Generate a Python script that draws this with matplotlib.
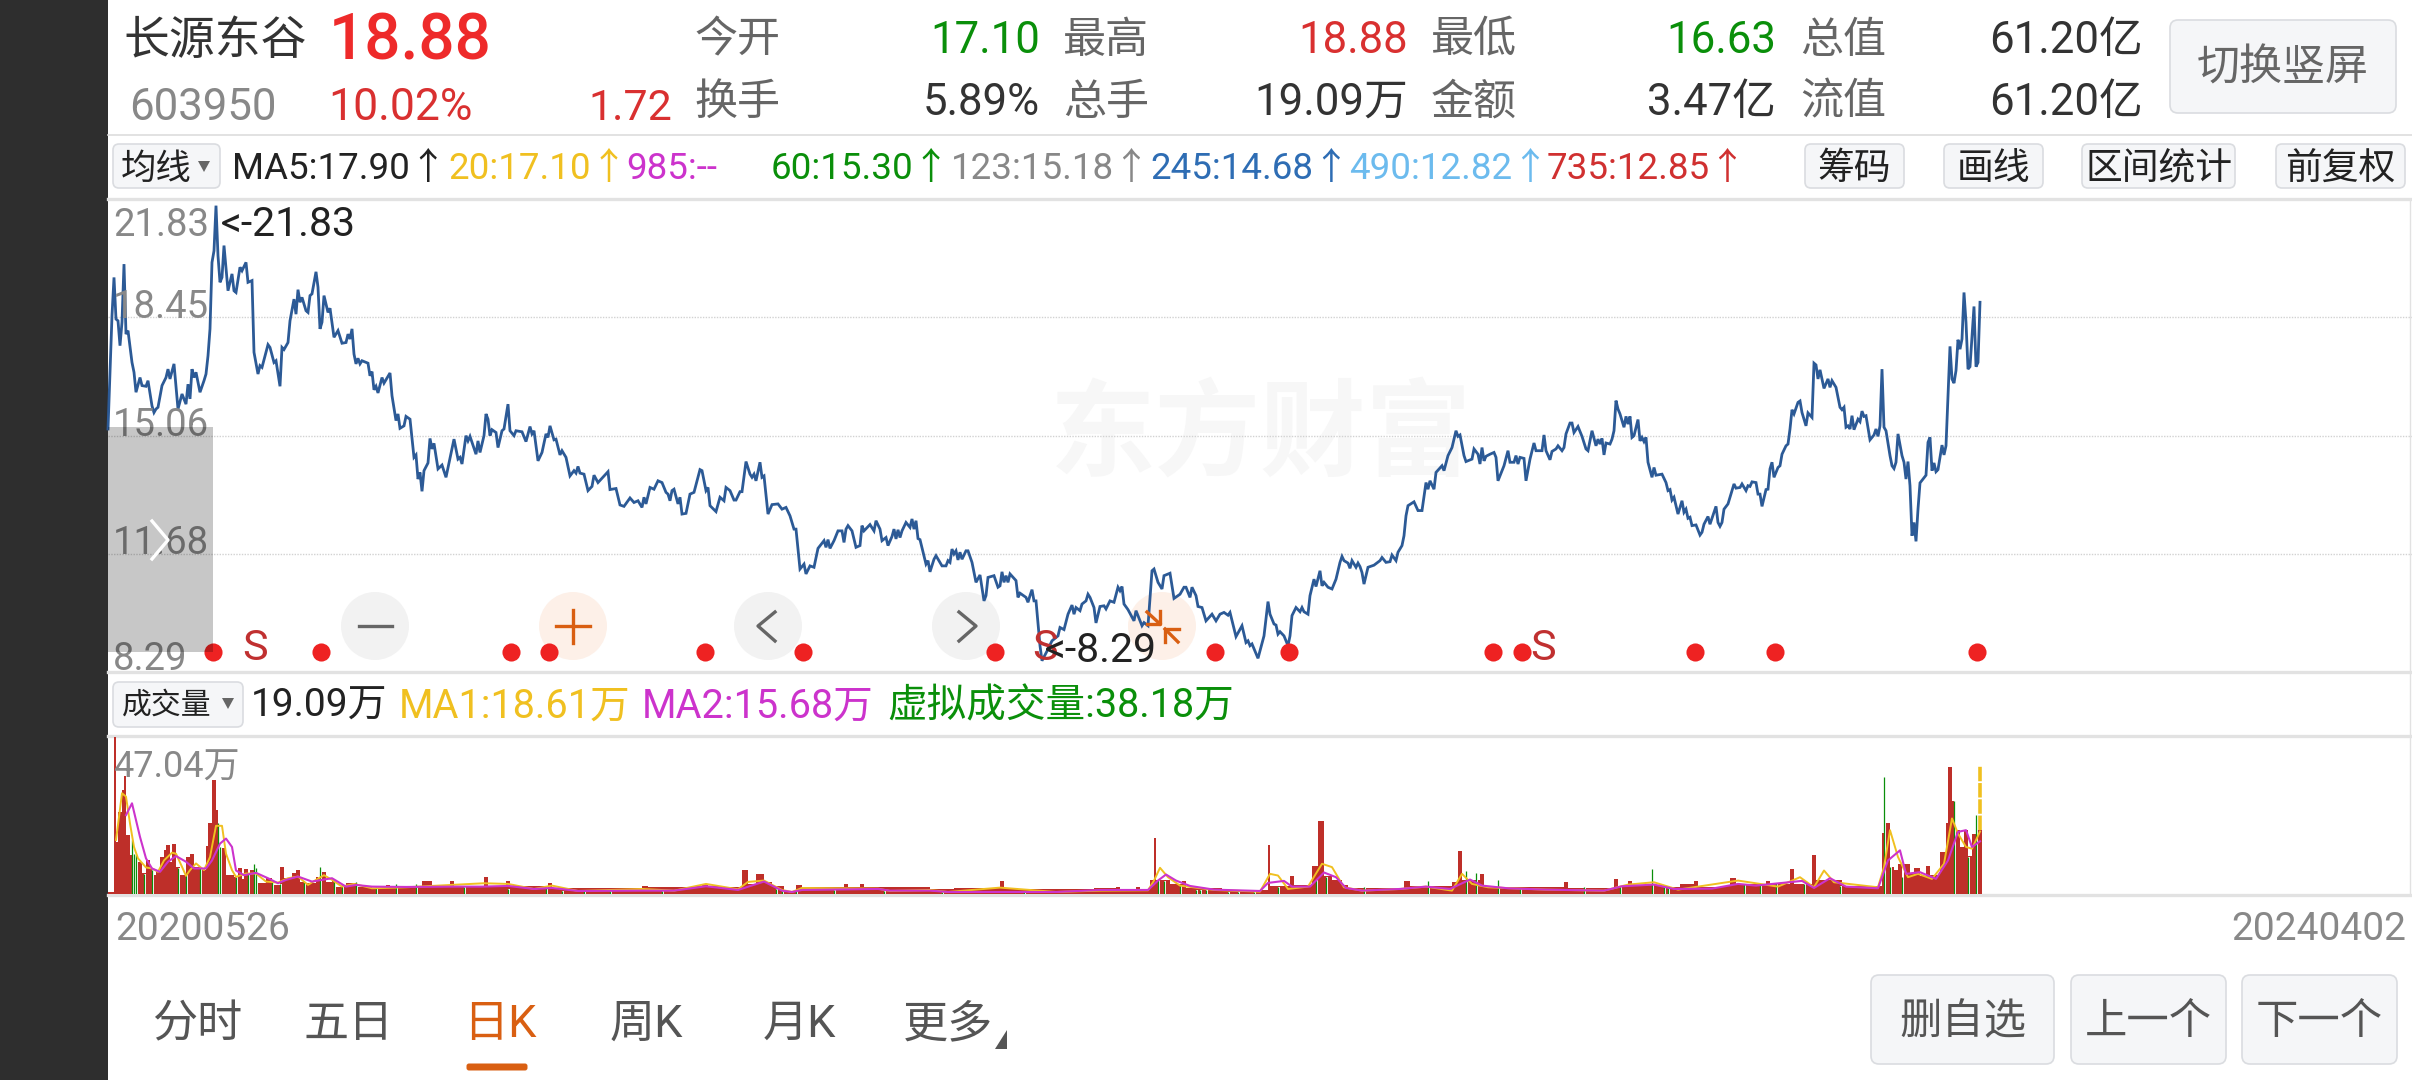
import numpy as np
import matplotlib
matplotlib.use("Agg")
import matplotlib.pyplot as plt
from matplotlib.patches import FancyBboxPatch, Circle, Rectangle, Polygon

plt.rcParams['font.family'] = ['Roboto', 'Noto Sans CJK SC', 'DejaVu Sans']

# ---------- data ----------
price_days = [0,1,2,3,4,5,6,7,8,9,10,12,13,14,16,17,19,20,22,23,24,25,27,29,30,31,33,35,37,39,40,41,42,43,44,46,48,49,50,51,52,53,54,55,56,57,58,60,62,63,64,66,67,69,70,72,73,75,76,77,80,81,83,84,86,87,88,90,91,93,94,95,96,97,99,100,101,102,104,105,106,107,108,110,111,113,115,117,119,120,121,122,123,124,125,126,127,130,131,132,133,134,135,137,138,141,142,144,145,146,148,149,151,153,154,155,156,157,158,160,161,162,163,165,167,169,173,175,176,177,179,180,181,184,185,186,188,189,190,191,192,194,195,197,198,200,201,203,204,207,209,211,212,213,215,217,219,220,221,223,224,226,227,229,231,233,234,235,
236,238,240,242,243,245,250,251,254,256,258,261,263,265,267,268,269,271,273,275,277,279,280,281,282,283,285,286,287,289,291,293,296,297,299,300,301,304,306,308,309,311,313,314,316,317,319,321,322,323,324,326,327,328,330,332,335,337,339,341,343,344,346,348,349,351,353,355,358,359,360,361,363,365,367,368,369,370,372,374,376,377,378,381,383,384,386,387,389,390,392,393,394,395,396,397,399,401,402,403,404,405,406,409,410,411,413,414,417,419,420,421,422,423,424,425,426,427,429,430,432,434,436,438,439,440,443,445,446,447,448,449,450,451,454,455,456,459,460,461,462,463,464,466,467,
470,472,475,476,478,480,482,483,484,486,487,489,490,491,493,494,496,498,499,501,503,505,506,507,508,510,513,514,517,518,520,522,523,525,527,528,531,533,536,538,539,541,542,544,545,547,549,552,554,556,558,560,561,564,567,569,570,571,572,575,578,580,581,583,584,585,586,588,590,591,592,594,596,597,598,600,601,603,604,606,607,608,610,612,614,616,617,618,620,621,622,624,625,626,627,628,630,633,636,637,639,641,642,644,645,647,648,649,650,653,655,657,659,660,661,663,664,667,668,670,672,674,675,676,678,679,682,683,685,686,687,688,689,691,693,694,695,698,700,701,703,704,705,
706,708,709,711,713,714,717,718,719,721,722,724,725,727,728,729,731,732,733,735,737,739,740,742,744,745,746,747,748,749,751,752,753,754,755,756,758,759,760,761,762,763,765,766,767,768,769,770,772,773,774,777,779,780,781,782,783,785,787,788,789,790,791,792,794,796,797,798,800,801,804,805,806,807,808,810,813,814,816,817,819,820,821,822,824,825,826,827,829,830,831,832,833,835,836,837,839,840,841,842,843,845,846,847,849,850,852,853,854,855,856,858,860,861,862,864,866,867,868,869,870,871,872,873,875,876,877,878,879,881,883,884,885,886,887,888,889,891,892,893,894,895,897,898,899,900,901,902,903,904,905,906,909,910,911,912,913,914,915,917,918,919,921,922,923,924,925,926,927,928,929,930,931,933,934,935,936]
price_close = [15.26,16.88,18.50,19.59,18.40,18.35,17.64,18.31,19.97,17.97,18.07,17.16,16.88,16.31,16.73,16.50,16.48,16.64,15.92,15.73,15.83,15.88,16.50,16.73,16.97,16.69,17.12,15.83,16.26,15.97,16.54,16.12,16.97,16.73,16.88,16.31,16.64,16.83,17.35,18.12,20.02,20.35,21.64,20.21,19.45,19.59,20.50,19.21,19.69,19.21,19.16,19.88,19.78,20.02,19.45,19.50,17.45,16.83,17.07,17.02,17.67,17.59,17.16,17.21,16.48,17.59,17.53,17.73,18.35,18.97,18.54,19.24,18.88,19.02,18.64,18.59,19.07,19.12,19.75,19.31,18.12,18.31,19.07,18.59,18.71,17.88,18.07,17.71,17.73,17.97,17.83,18.12,17.40,17.12,17.28,17.12,17.21,17.14,16.78,16.90,16.38,16.48,16.29,16.73,16.57,16.86,16.21,15.50,15.69,15.28,15.35,15.62,15.54,14.45,14.52,13.83,14.02,13.48,14.07,14.29,14.99,14.69,14.85,14.12,14.23,13.88,14.97,14.40,14.45,14.26,15.07,14.92,15.05,14.54,14.92,14.59,15.07,15.69,15.54,15.07,15.24,15.16,14.73,15.21,15.26,15.97,15.21,15.07,15.21,15.18,14.90,15.33,15.12,15.21,14.35,14.59,15.12,15.02,15.35,14.95,14.97,14.52,14.64,14.45,13.92,14.07,14.00,14.19,
14.00,13.97,13.50,13.62,13.94,13.73,14.04,13.53,13.56,13.09,13.05,13.29,13.16,13.21,13.02,13.31,13.12,13.59,13.54,13.78,13.73,13.45,13.40,13.21,13.50,13.54,13.12,13.31,12.83,12.85,13.40,13.45,14.10,14.07,13.50,13.59,13.07,12.90,13.31,13.21,13.59,13.50,13.23,13.23,13.47,13.47,14.33,13.97,13.88,13.97,13.78,14.31,13.88,13.92,12.83,13.10,13.12,12.97,13.02,12.78,12.40,12.40,11.26,11.40,11.12,11.35,11.31,11.85,12.07,11.88,12.10,11.85,12.07,12.35,12.35,12.02,12.40,12.50,12.35,11.88,11.93,12.50,12.35,12.53,12.35,12.64,12.40,12.07,12.16,11.93,12.19,12.40,12.12,12.38,12.16,12.35,12.59,12.45,12.69,12.40,12.64,12.13,12.10,11.40,11.50,11.18,11.54,11.64,11.35,11.35,11.50,11.45,11.83,11.69,11.78,11.52,11.74,11.54,11.78,11.78,11.45,10.88,11.09,10.35,10.50,11.02,11.07,10.74,10.78,11.18,10.88,11.07,10.88,11.12,10.93,10.45,10.57,10.45,10.31,10.50,10.67,10.35,10.35,9.07,8.64,
8.97,9.21,9.35,9.59,9.53,9.97,10.23,9.97,10.16,10.07,10.26,10.35,10.54,10.45,10.16,9.72,10.19,10.21,10.12,10.35,10.31,10.74,10.64,10.76,10.26,10.10,9.78,10.07,9.64,9.73,9.64,11.21,11.26,10.88,10.69,11.07,11.14,10.42,10.54,10.74,10.74,10.45,10.74,10.50,10.19,10.16,9.78,9.97,9.78,9.97,10.02,9.94,10.02,9.33,9.64,9.16,9.21,9.07,9.12,8.71,9.35,10.33,9.97,9.69,9.66,9.40,9.47,9.35,9.07,9.35,9.93,10.16,10.04,10.16,10.04,9.97,10.50,10.97,10.76,11.21,10.78,10.88,10.74,10.69,10.97,11.45,11.62,11.50,11.43,11.28,11.50,11.31,11.43,11.33,11.16,10.83,11.31,11.37,11.50,11.59,11.45,11.47,11.66,11.50,11.74,11.93,12.21,12.78,13.07,13.18,12.93,12.93,13.73,13.54,13.78,13.54,14.02,14.21,14.07,14.50,14.73,15.21,15.05,15.09,14.50,14.33,14.40,14.69,14.54,14.26,14.73,14.35,14.48,14.54,14.59,14.45,13.78,14.21,14.64,14.31,14.31,14.50,14.26,
14.45,14.42,13.78,14.40,14.86,14.64,14.64,15.09,14.64,14.38,14.62,14.69,14.78,14.64,14.73,15.12,15.43,15.43,15.16,15.33,15.05,14.69,14.64,15.21,14.78,14.97,14.83,14.99,14.52,14.86,14.83,14.97,15.21,16.07,15.83,15.69,15.31,15.62,15.40,15.62,15.02,15.07,15.53,14.92,15.02,14.90,15.02,14.31,13.88,14.16,13.94,13.97,13.73,13.50,13.53,13.23,13.31,12.83,13.21,12.88,12.97,12.71,12.74,12.50,12.52,12.23,12.31,12.54,12.76,12.54,13.05,12.59,12.48,12.59,12.97,13.12,13.69,13.57,13.59,13.69,13.50,13.64,13.62,13.75,13.73,13.40,13.40,13.05,13.53,13.54,14.12,14.31,13.88,14.16,14.21,14.54,14.78,14.83,15.26,15.81,15.69,16.02,16.06,15.73,15.35,15.72,15.59,17.14,17.09,16.69,16.95,16.42,16.69,16.45,16.64,16.45,15.88,15.81,15.88,15.31,15.35,15.26,15.64,15.24,15.54,15.47,15.77,15.62,15.64,14.95,15.09,15.26,15.05,15.35,16.97,15.31,15.21,14.50,14.21,14.13,14.31,15.12,14.50,14.31,13.83,14.33,13.64,12.21,12.59,12.05,12.97,13.72,13.94,14.88,15.02,14.07,14.29,14.04,14.10,14.80,14.52,14.78,17.62,16.69,16.57,16.93,17.81,17.54,17.83,19.16,18.31,16.97,17.04,18.76,17.04,17.16,18.88]
price_ticks = [18.45, 15.06, 11.68]
price_labels = ['21.83', '18.45', '15.06', '11.68', '8.29']
signal_days = [52.5,106.5,201.5,220.5,298.5,347.5,443.5,553.5,590.5,692.5,707,793.5,833.5,934.5]
s_days = [73.5, 468.5, 717.5]

vol_days = [0,3,4,5,7,8,9,11,14,17,19,21,22,24,26,28,29,31,32,34,36,39,41,43,46,49,50,52,54,55,57,59,63,64,65,67,68,70,71,73,74,75,79,82,86,88,92,94,96,98,104,105,107,109,112,114,119,124,132,139,141,
149,157,162,171,173,188,190,199,201,220,222,267,270,294,297,300,307,310,317,320,324,328,332,338,344,347,368,370,376,378,391,398,411,423,446,448,455,462,493,
496,504,506,514,516,521,523,524,531,537,539,557,577,580,581,591,593,602,605,608,612,617,620,648,651,672,675,677,686,688,728,730,753,755,760,762,777,786,793,795,807,811,814,829,831,841,843,852,854,867,886,887,889,891,893,895,897,898,901,903,906,909,911,916,919,920,922,924,926,928,930,932,935]
vol_vals = [0.7,46.8,15.6,24.5,31,35,17.5,11.6,9.6,6.2,10,7.6,5.7,6.6,11,13,14.6,9.6,15,8,5.7,11,12,8,7,14.3,21,34,25,14,13.6,5.7,5,3.5,7.6,4.5,7.3,4.5,7,4.5,6,3.4,4.7,2.7,8,4.7,6.3,7,3.7,3.4,5,4.7,6.6,3.7,4,2.2,3.2,2,1.7,2.7,1.7,
2.1,3.8,2.1,3.8,2.3,5,2.4,4,2.3,3.3,1.9,2.5,2,2.5,3,2.3,1.9,2,7.1,3,5.9,3.6,2.5,0.8,2.6,2,3,2,3,2,2,2.1,1.6,1.7,4,1.8,1.4,1.5,1.7,
1.7,2,1.6,2,1.2,4.3,16.7,4.3,3,3.8,1.9,1.3,1.2,14.7,2.3,5.5,2.8,8.2,21.6,5.3,4.3,2.8,1.8,3.8,2.4,3.5,12.7,4.3,6,2,3.5,1.8,4.5,2.5,4,2.8,2.2,3,3.9,2.2,2.3,4.7,3,4,3,7.5,3,11.7,4.3,2.5,2.5,18.2,21,8,7.2,9,5,9,6,7.7,5.5,8.4,5.8,12.4,21,37.8,27.8,19,14,19,11.2,18,19.09]
vol_end_day = 937
virtual_vol = 38.18

down_days = [12,13,14,18,22,35,39,46,55,56,64,70,73,74,82,86,98,106,113,117,124,134,144,154,178,200,219,227,238,251,277,334,337,344,363,388,417,458,525,528,536,544,546,549,560,565,573,585,604,609,628,660,679,684,695,706,738,756,772,778,780,818,826,834,848,866,888,891,897,923,930,934]
down_vols = [16,12,11.6,6,7,7.6,5.7,8,21,14,5,6,9,7.6,4,3,3.7,8,4,2.7,3.7,2,2.9,3,2,1.5,2,1,0.9,0.9,0.8,1.5,0.9,1,1.2,1,0.5,0.6,4.3,4,2.8,1.2,1.2,1.2,0.7,0.7,0.7,2,4.3,5,2,3.8,6.7,6.4,4.3,1.7,2,2.3,7.4,2,1.8,3,3,3.2,3,2.5,34.9,8,5,27.8,11,23.6]

ma1_days = [4,5,7,9,11,13,15,19,22,25,28,32,34,37,39,41,44,48,51,54,57,59,62,64,69,74,79,85,90,95,100,104,108,112,117,123,132,149,165,188,200,213,222,235,267,283,299,315,320,328,337,342,347,385,391,411,420,446,474,496,520,523,526,530,536,553,576,581,585,590,600,607,612,618,627,646,659,672,677,682,690,719,748,760,773,785,815,835,846,853,858,863,885,888,891,895,900,905,912,918,922,925,929,932,936]
ma1_vals = [16.1,20.6,30,29,21,14,10.6,7.9,7.6,6.6,10,12.3,12,8.1,5.4,7.1,9.1,7.1,11,20.3,20.3,12,7.1,5.1,6.1,6.1,3.7,3.4,4.7,5.2,2.7,4.2,5.6,4.2,2.2,3,1.7,2,2.5,3.2,3,1.5,2.5,0.9,1.5,1,3,1.4,3.6,4,1.2,0.6,1.8,1.6,0.9,1.2,0.6,1.9,0.6,1,1.1,4,7.8,5,2.5,1.2,0.7,6,5.5,1.5,2.2,9,8,2,1,1.5,2.2,1,6,3,2,1.3,1,2.8,3.5,1.3,4,2.2,5,2,7,3.5,2,8,19,11,5,6,4.5,9,22.5,18,14,13.5,18.61]
ma2_days = [9,12,14,16,19,22,26,30,34,39,43,49,52,56,59,62,64,68,74,80,85,89,95,102,107,112,119,124,132,149,175,187,200,213,222,235,267,283,299,315,328,337,342,347,385,391,411,420,474,496,520,525,529,534,541,553,576,580,588,592,601,608,614,619,627,646,659,671,681,687,700,719,748,757,773,783,802,815,824,847,853,861,869,885,890,896,899,906,914,920,925,929,932,936]
ma2_vals = [23.5,27,22,17,10.6,7.6,6.6,9.6,11.3,9.6,7.6,7.6,10,15,16.5,14,7,5.6,6.3,4.7,3.2,4.2,5.2,3.7,4.2,4.7,2.2,2.7,2.2,2.1,2.2,2.2,2.4,1.5,1.8,0.9,1,1,2.3,1.2,3.7,1,0.6,1.2,1.5,1,1,0.6,0.6,1.2,1.2,4,5.8,4,2.4,1.3,0.9,3.3,3.9,2.2,2.2,6.4,5,1.8,1,1.5,2.2,1.5,4.3,2.5,1.7,1.3,1,2.3,2.8,1.5,1.6,3,2.5,3.9,1.8,4.7,2.2,1.7,10,13,6,6.5,4.5,10,18.5,19,14,15.68]

header_row1 = [('今开','17.10','#0A8F0A'),('最高','18.88','#D93030'),('最低','16.63','#0A8F0A'),('总值','61.20亿','#333333')]
header_row2 = [('换手','5.89%','#333333'),('总手','19.09万','#333333'),('金额','3.47亿','#333333'),('流值','61.20亿','#333333')]
ma_legend = [('MA5:17.90↑','#222222',232),('20:17.10↑','#F0C020',448),('985:--','#CC33CC',626),('60:15.30↑','#0A8F0A',771),
             ('123:15.18↑','#888888',951),('245:14.68↑','#2E6DB4',1150),('490:12.82↑','#6CBBEE',1349),('735:12.85↑','#D03030',1547)]

# ---------- layout ----------
W, H = 2412, 1080
L = 108
fig = plt.figure(figsize=(W/100, H/100), dpi=100, facecolor='white')

def px_axes(z):
    a = fig.add_axes([0, 0, 1, 1], zorder=z)
    a.set_xlim(0, W); a.set_ylim(H, 0); a.axis('off'); a.patch.set_alpha(0)
    return a

back = px_axes(0)
top = px_axes(5)

DARK = '#2E2E2E'; GRAY = '#888888'; LABEL = '#666666'; ORANGE = '#D95F12'; RED = '#D93030'; GREEN = '#0A8F0A'
YEL = '#F0C020'; MAG = '#CC33CC'; BORDER = '#E2E2E2'

def txt(a, x, y, s, size, color, ha='left', va='center', **kw):
    return a.text(x, y+3, s, fontsize=size, color=color, ha=ha, va=va, **kw)

def button(a, x0, y0, x1, y1, label, size=26.5, color='#222222', r=6):
    a.add_patch(FancyBboxPatch((x0+r, y0+r), x1-x0-2*r, y1-y0-2*r, boxstyle=f'round,pad={r},rounding_size={r}',
                               fc='#F5F6F8', ec='#DADCE0', lw=1.2))
    if label:
        txt(a, (x0+x1)/2, (y0+y1)/2, label, size, color, ha='center')

back.add_patch(Rectangle((0, 0), L, H, fc=DARK, ec='none'))

# header
txt(top, 123, 38, '长源东谷', 33, '#333333')
txt(top, 329, 38, '18.88', 46, '#EE2A2A', weight='medium')
txt(top, 129, 105, '603950', 31.5, GRAY)
txt(top, 328, 105, '10.02%', 32, RED)
txt(top, 672, 105, '1.72', 31, RED, ha='right')
label_x = [694, 1063, 1431, 1800]
value_x = [1040, 1408, 1776, 2143]
for row_y, row in ((38, header_row1), (100, header_row2)):
    for lx, vx_, (lab, val, col) in zip(label_x, value_x, row):
        txt(top, lx, row_y, lab, 31, LABEL)
        txt(top, vx_, row_y, val, 31.5, col, ha='right')
button(back, 2170, 20, 2396, 113, '切换竖屏', 31, LABEL, r=8)
back.plot([L, W], [135, 135], color='#DDDDDD', lw=1.2)

# MA legend row
button(back, 113, 144, 220, 188, '', r=6)
txt(top, 121, 166, '均线', 25.5, '#222222')
top.add_patch(Polygon([[198, 161], [210, 161], [204, 172]], fc='#666666', ec='none'))
for s, c, x in ma_legend:
    txt(top, x, 166, s, 26.5, c)
button(back, 1805, 144, 1904, 188, '筹码')
button(back, 1944, 144, 2043, 188, '画线')
button(back, 2082, 144, 2235, 188, '区间统计')
button(back, 2276, 144, 2405, 188, '前复权')

# panel borders
for y in (199, 672, 736, 895):
    back.plot([L, W], [y, y], color=BORDER, lw=2.4)
back.plot([W-2, W-2], [199, 895], color=BORDER, lw=1)

# watermark
txt(back, 1261, 436, '东方财富', 76, '#F7F7F7', ha='center', weight='bold')

# round control fills
CY, CR = 626, 34
for cx, col in ((375, '#F2F2F2'), (573, '#FDF0E8'), (768, '#F2F2F2'), (966, '#F2F2F2'), (1162, '#FDF0E8')):
    back.add_patch(Circle((cx, CY), CR, fc=col, ec='none'))

# ---------- price axes ----------
def data_axes(y_top, y_bot, y0, y1):
    a = fig.add_axes([L/W, 1-y_bot/H, (W-L)/W, (y_bot-y_top)/H], zorder=2)
    a.set_xlim(0, (W-L)/2); a.set_ylim(y0, y1)
    a.patch.set_alpha(0); a.set_frame_on(False)
    a.tick_params(length=0, labelbottom=False, labelleft=False)
    return a

ax = data_axes(199, 673, 8.29, 21.83)
ax.set_xticks([]); ax.set_yticks(price_ticks)
ax.grid(axis='y', color='#D2D2D2', ls=(0, (1, 1)), lw=1)
ax.set_axisbelow(True)
ax.plot(price_days, price_close, color='#2C5A96', lw=2, solid_joinstyle='miter', clip_on=False)
ax.scatter(signal_days, [8.89]*len(signal_days), s=170, color='#EE2222', lw=0, zorder=6, clip_on=False)
for d in s_days:
    ax.text(d, 8.98, 'S', fontsize=31, color='#C03030', ha='center', va='center', zorder=7)

# price scale text
for y, s in zip((222, 304, 422, 541, 656), price_labels):
    txt(top, 113, y, s, 27.5, GRAY)
txt(top, 220, 221, '<-21.83', 29.5, '#222222')
txt(top, 1045, 647, '<-8.29', 29.5, '#222222')

# grey drawer on top of the chart
top.add_patch(Rectangle((L, 427), 105, 225, fc='black', alpha=0.22, ec='none', zorder=3))
top.plot([152, 168, 152], [521, 540, 559], color='white', lw=2.4, zorder=4)

# control glyphs
top.plot([359, 392], [626, 626], color='#666666', lw=2.4)
top.plot([556, 590], [626, 626], color=ORANGE, lw=2.4)
top.plot([573, 573], [610, 643], color=ORANGE, lw=2.4)
top.plot([775, 758, 775], [612, 626, 641], color='#666666', lw=2.4)
top.plot([959, 976, 959], [612, 626, 641], color='#666666', lw=2.4)
top.plot([1147, 1160, 1160], [624, 624, 611], color=ORANGE, lw=2.4)
top.plot([1147, 1160], [612, 624], color=ORANGE, lw=2.4)
top.plot([1179, 1165, 1165], [629, 629, 642], color=ORANGE, lw=2.4)
top.plot([1165, 1178], [629, 642], color=ORANGE, lw=2.4)

# ---------- volume ----------
button(back, 113, 682, 243, 727, '', r=6)
txt(top, 122, 703, '成交量', 21.5, '#222222')
top.add_patch(Polygon([[222, 698], [234, 698], [228, 709]], fc='#666666', ec='none'))
txt(top, 251, 703, '19.09万', 28, '#222222')
txt(top, 399, 703, 'MA1:18.61万', 28.5, YEL)
txt(top, 642, 703, 'MA2:15.68万', 28.5, MAG)
txt(top, 887, 703, '虚拟成交量:38.18万', 28.5, GREEN)

vx = data_axes(736, 894, 0, 47.04)
vx.set_xticks([]); vx.set_yticks([])
widths = np.diff(vol_days + [vol_end_day])
vx.bar(vol_days, vol_vals, width=widths, align='edge', color='#BE2F29', lw=0, clip_on=False)
vx.bar(down_days, down_vols, width=1.2, align='edge', color='white', lw=0, zorder=2)
vx.vlines(down_days, 0, down_vols, color='#0A8F0A', lw=0.9, zorder=3)
vx.vlines(vol_end_day-1, vol_vals[-1], virtual_vol, color=YEL, lw=2.6, ls=(0, (4, 0.5)), zorder=4)
vx.plot(ma1_days, ma1_vals, color=YEL, lw=1.4, zorder=5)
vx.plot(ma2_days, ma2_vals, color=MAG, lw=1.5, zorder=6)
txt(top, 113, 765, '47.04万', 26, GRAY)

# dates
txt(top, 115, 927, '20200526', 28, GRAY)
txt(top, 2406, 927, '20240402', 28, GRAY, ha='right')

# bottom tabs
for x, s, c in ((152, '分时', '#555555'), (303, '五日', '#555555'), (463, '日K', ORANGE),
                (610, '周K', '#555555'), (763, '月K', '#555555'), (903, '更多', '#555555')):
    txt(top, x, 1022, s, 32.5, c)
top.add_patch(FancyBboxPatch((469, 1066), 56, 2, boxstyle='round,pad=2.5,rounding_size=2.5', fc=ORANGE, ec='none'))
top.add_patch(Polygon([[1007, 1030], [1007, 1049], [995, 1049]], fc='#555555', ec='none'))
button(back, 1871, 975, 2054, 1064, '删自选', 30.5, '#555555', r=8)
button(back, 2071, 975, 2226, 1064, '上一个', 30.5, '#555555', r=8)
button(back, 2242, 975, 2397, 1064, '下一个', 30.5, '#555555', r=8)

fig.savefig('out.png', dpi=100, facecolor='white')
